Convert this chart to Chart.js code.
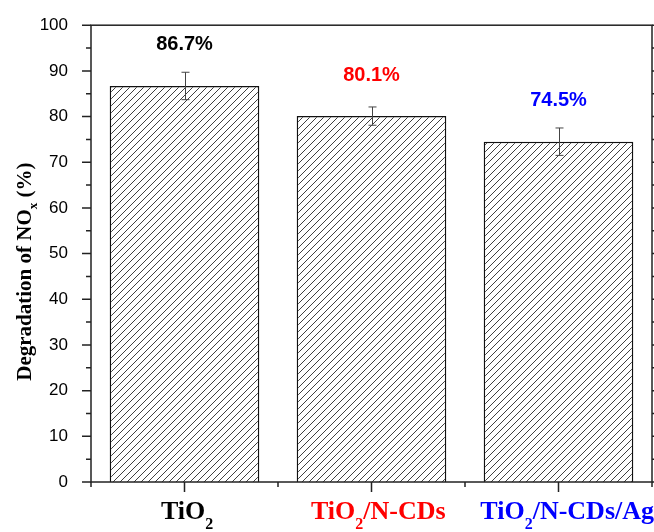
<!DOCTYPE html>
<html><head><meta charset="utf-8">
<script src="https://cdn.jsdelivr.net/npm/chart.js@4.4.0/dist/chart.umd.min.js"></script>
<style>html,body{margin:0;padding:0;background:#fff;} canvas{display:block;}</style>
</head><body>
<canvas id="c" width="654" height="532" style="width:654px;height:532px"></canvas>
<script>
// ---- data ----
const categories = ['TiO2', 'TiO2/N-CDs', 'TiO2/N-CDs/Ag'];
const degradation = [86.7, 80.1, 74.5];
const errors = [3.0, 2.0, 3.0];
const labelColors = ['#000000', '#ff0000', '#0000ff'];
const yTickValues = [0, 10, 20, 30, 40, 50, 60, 70, 80, 90, 100];
const yTitleParts = [{t: 'Degradation of NO'}, {t: 'x', sub: true}, {t: ' (%)'}];

const AXIS = '#222';
const SERIF = '"Liberation Serif", "Times New Roman", serif';
const SANS = '"Liberation Sans", Arial, sans-serif';

function parseFormula(s) {
  const segs = []; const re = /([A-Za-z])(\d+)/g; let last = 0, m;
  while ((m = re.exec(s))) {
    segs.push({t: s.slice(last, m.index + 1)});
    segs.push({t: m[2], sub: true});
    last = m.index + m[0].length;
  }
  if (last < s.length) segs.push({t: s.slice(last)});
  return segs;
}
function segFont(seg, size, subScale) {
  return 'bold ' + (seg.sub ? Math.round(size * subScale) : size) + 'px ' + SERIF;
}
function richWidth(ctx, segs, size, subScale) {
  let w = 0;
  segs.forEach(s => { ctx.font = segFont(s, size, subScale); w += ctx.measureText(s.t).width; });
  return w;
}
function drawRich(ctx, segs, x, y, size, subScale, subShift) {
  let cx = x;
  ctx.textAlign = 'left'; ctx.textBaseline = 'alphabetic';
  segs.forEach(s => {
    ctx.font = segFont(s, size, subScale);
    ctx.fillText(s.t, cx, s.sub ? y + size * subShift : y);
    cx += ctx.measureText(s.t).width;
  });
}

function makeHatch() {
  const s = 7; const c = document.createElement('canvas'); c.width = s; c.height = s;
  const g = c.getContext('2d');
  g.fillStyle = '#fff'; g.fillRect(0, 0, s, s);
  g.strokeStyle = '#2a2a2a'; g.lineWidth = 0.9;
  g.beginPath();
  g.moveTo(-1, s + 1); g.lineTo(s + 1, -1);
  g.moveTo(-1, 1); g.lineTo(1, -1);
  g.moveTo(s - 1, s + 1); g.lineTo(s + 1, s - 1);
  g.stroke();
  return document.getElementById('c').getContext('2d').createPattern(c, 'repeat');
}

const decorPlugin = {
  id: 'decor',
  afterDatasetsDraw(chart) {
    const ctx = chart.ctx; const ca = chart.chartArea;
    const x = chart.scales.x, y = chart.scales.y;
    const meta = chart.getDatasetMeta(0);
    ctx.save();
    // error bars
    ctx.strokeStyle = '#444'; ctx.lineWidth = 1;
    meta.data.forEach((bar, i) => {
      const cx = Math.round(bar.x) + 0.5;
      const top = y.getPixelForValue(degradation[i] + errors[i]);
      const bot = y.getPixelForValue(degradation[i] - errors[i]);
      ctx.beginPath();
      ctx.moveTo(cx, top); ctx.lineTo(cx, bot);
      ctx.moveTo(cx - 4, top); ctx.lineTo(cx + 4, top);
      ctx.moveTo(cx - 4, bot); ctx.lineTo(cx + 4, bot);
      ctx.stroke();
    });
    // value labels
    ctx.font = 'bold 20px ' + SANS; ctx.textAlign = 'center'; ctx.textBaseline = 'middle';
    meta.data.forEach((bar, i) => {
      ctx.fillStyle = labelColors[i];
      ctx.fillText(degradation[i].toFixed(1) + '%', bar.x, y.getPixelForValue(degradation[i] + 9));
    });
    // frame
    ctx.strokeStyle = AXIS; ctx.lineWidth = 1.5;
    ctx.strokeRect(ca.left, ca.top, ca.right - ca.left, ca.bottom - ca.top);
    // y ticks (major every 10, minor every 5)
    ctx.beginPath();
    for (let v = y.min; v <= y.max; v += 5) {
      const py = y.getPixelForValue(v);
      const len = (v % 10 === 0) ? 9 : 5;
      ctx.moveTo(ca.left - len, py); ctx.lineTo(ca.left, py);
      ctx.moveTo(ca.right, py); ctx.lineTo(ca.right + len, py);
    }
    // x ticks: major at categories, minor at boundaries
    meta.data.forEach((bar, i) => {
      const px = x.getPixelForValue(i);
      ctx.moveTo(px, ca.bottom); ctx.lineTo(px, ca.bottom + 10);
    });
    for (let i = -0.5; i <= categories.length - 0.5; i += 1) {
      const px = x.getPixelForValue(i);
      ctx.moveTo(px, ca.bottom); ctx.lineTo(px, ca.bottom + 5);
    }
    ctx.stroke();
    // x category labels with subscripts
    categories.forEach((c, i) => {
      const segs = parseFormula(c);
      const w = richWidth(ctx, segs, 26, 0.62);
      const cx = x.getPixelForValue(i) + w * 0.05;
      ctx.fillStyle = labelColors[i];
      drawRich(ctx, segs, cx - w / 2, 519, 26, 0.62, 0.4);
    });
    // y title
    ctx.fillStyle = '#000';
    ctx.translate(31, (ca.top + ca.bottom) / 2 + 18);
    ctx.rotate(-Math.PI / 2);
    const tw = richWidth(ctx, yTitleParts, 21, 0.6);
    drawRich(ctx, yTitleParts, -tw / 2, 0, 21, 0.6, 0.3);
    ctx.restore();
  }
};

new Chart(document.getElementById('c'), {
  type: 'bar',
  data: {
    labels: categories,
    datasets: [{
      data: degradation,
      backgroundColor: makeHatch(),
      borderColor: '#111',
      borderWidth: 1.5,
      borderSkipped: 'start',
      barPercentage: 0.8,
      categoryPercentage: 1.0
    }]
  },
  options: {
    responsive: false,
    devicePixelRatio: 1,
    animation: false,
    layout: {padding: {top: 25, right: 2, left: 0, bottom: 0}},
    plugins: {legend: {display: false}, tooltip: {enabled: false}},
    scales: {
      x: {
        offset: true,
        grid: {display: false},
        border: {display: false},
        ticks: {display: false},
        afterFit(s) { s.height = 50; }
      },
      y: {
        min: 0, max: 100,
        grid: {display: false},
        border: {display: false},
        afterBuildTicks(s) { s.ticks = yTickValues.map(v => ({value: v})); },
        ticks: {color: '#000', padding: 15, font: {family: SANS, size: 17}},
        afterFit(s) { s.width = 91; }
      }
    }
  },
  plugins: [decorPlugin]
});
</script>
</body></html>
